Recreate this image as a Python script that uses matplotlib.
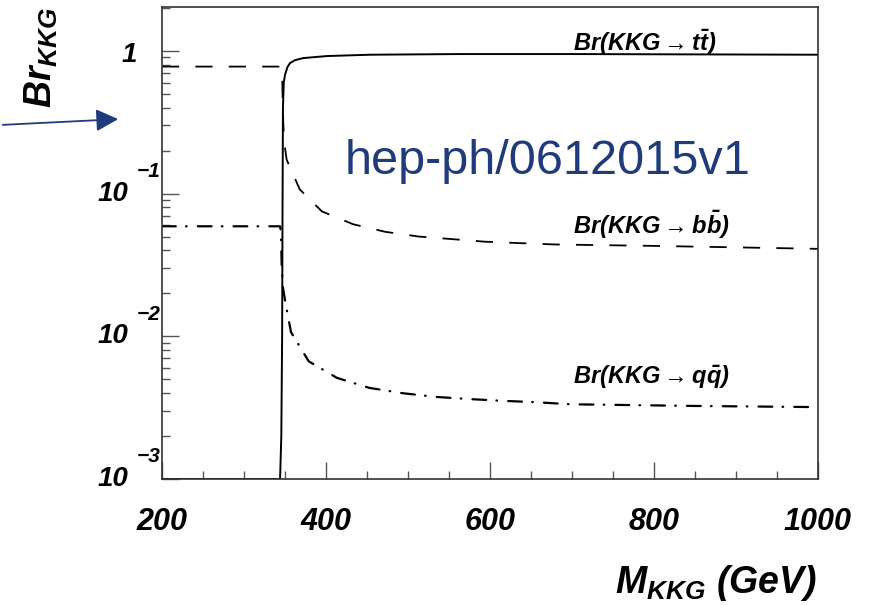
import matplotlib
matplotlib.use("Agg")
import matplotlib.pyplot as plt
from matplotlib.ticker import FixedLocator, LogLocator, NullFormatter, MultipleLocator

plt.rcParams["font.family"] = ["Liberation Sans", "DejaVu Sans"]
plt.rcParams["mathtext.fontset"] = "custom"
plt.rcParams["mathtext.rm"] = "Liberation Sans:italic:bold"
plt.rcParams["mathtext.it"] = "Liberation Sans:italic:bold"
plt.rcParams["mathtext.bf"] = "Liberation Sans:italic:bold"

# KK gluon mass (GeV) and branching ratios
mass_tt = [200, 344, 345.5, 346.5, 347, 347.5, 348.5, 350, 353, 356, 362, 372, 401, 454, 563, 700, 850, 1000]
br_tt = [0.001, 0.001, 0.002, 0.01, 0.08, 0.4, 0.6, 0.68, 0.77, 0.82, 0.86, 0.89, 0.92, 0.94, 0.95,
         0.95, 0.945, 0.94]

mass_bb = [200, 345.5, 346.5, 347.2, 348, 349, 352, 368, 395, 433, 472, 513, 553, 594, 635, 679, 800, 900, 1000]
br_bb = [0.776, 0.776, 0.7, 0.45, 0.3, 0.23, 0.173, 0.107, 0.075, 0.061, 0.054, 0.050, 0.048,
         0.046, 0.045, 0.044, 0.043, 0.042, 0.041]

mass_qq = [200, 344, 345, 346, 347.5, 350, 357.3, 378.9, 413.4, 452.8, 493.9, 534.1, 575.6,
           615.9, 657.3, 697.6, 850, 1000]
br_qq = [0.059, 0.059, 0.054, 0.031, 0.022, 0.0179, 0.0107, 0.00668, 0.00511, 0.00435, 0.00399,
         0.00376, 0.00363, 0.00353, 0.00345, 0.00334, 0.00325, 0.00319]

xticks = [200, 400, 600, 800, 1000]
ydecades = [1, 0.1, 0.01, 0.001]
yexponents = ["", "-1", "-2", "-3"]

curve_labels = [r"$Br(KKG \rightarrow t\bar{t})$",
                r"$Br(KKG \rightarrow b\bar{b})$",
                r"$Br(KKG \rightarrow q\bar{q})$"]
label_y = [1.0, 0.0517, 0.00462]

navy = "#1f3b7b"
bold_it = dict(fontweight="bold", fontstyle="italic")

fig = plt.figure(figsize=(8.7, 6.05), dpi=100)
ax = fig.add_axes([162 / 870, 1 - 479 / 605, (818 - 162) / 870, (479 - 7) / 605])

ax.plot(mass_tt, br_tt, color="black", lw=1.4, solid_joinstyle="round")
ax.plot(mass_bb, br_bb, color="black", lw=1.3, dashes=(9.5, 9))
ax.plot(mass_qq, br_qq, color="black", lw=1.6, dashes=(6.2, 4.6, 0.3, 5.0),
        dash_capstyle="round")

ax.set_yscale("log")
ax.set_xlim(200, 1000)
ax.set_ylim(1e-3, 2.03)

ax.xaxis.set_major_locator(FixedLocator(xticks))
ax.xaxis.set_minor_locator(MultipleLocator(50))
ax.set_xticklabels([str(v) for v in xticks], fontsize=22, **bold_it)
ax.yaxis.set_major_locator(FixedLocator(ydecades))
ax.yaxis.set_minor_locator(LogLocator(base=10, subs=range(2, 10)))
ax.yaxis.set_major_formatter(NullFormatter())
ax.yaxis.set_minor_formatter(NullFormatter())

ax.tick_params(which="both", direction="in", top=False, right=False, color="#555555", width=1)
ax.tick_params(which="major", length=12.5)
ax.tick_params(which="minor", length=6)
ax.tick_params(axis="x", which="major", pad=20)
for s in ax.spines.values():
    s.set_linewidth(1.2)
    s.set_color("#333333")

# y tick labels in ROOT style: "10" with a raised exponent
for val, expo in zip(ydecades, yexponents):
    if expo == "":
        ax.annotate("1", xy=(0, val), xycoords=("axes fraction", "data"),
                    xytext=(-18, -3), textcoords="offset points",
                    ha="right", va="center", fontsize=20, **bold_it)
        continue
    ax.annotate("10", xy=(0, val), xycoords=("axes fraction", "data"),
                xytext=(-24, 0), textcoords="offset points",
                ha="right", va="center", fontsize=20, **bold_it)
    ax.annotate("\u2212" + expo[1:], xy=(0, val), xycoords=("axes fraction", "data"),
                xytext=(-1, 16), textcoords="offset points",
                ha="right", va="center", fontsize=15, **bold_it)

for txt, yv in zip(curve_labels, label_y):
    ax.text(701, yv, txt, fontsize=17, ha="left", va="baseline", **bold_it)

fig.text(817 / 870, 1 - 593 / 605, r"$M_{KKG}$ (GeV)", fontsize=27, ha="right",
         va="baseline", **bold_it)
fig.text(41 / 870, 1 - 7 / 605, r"$Br_{KKG}$", fontsize=27, rotation=90, ha="center",
         va="top", **bold_it)

fig.text(345 / 870, 1 - 174 / 605, "hep-ph/0612015v1", fontsize=35, color=navy,
         ha="left", va="baseline")
fig.add_artist(matplotlib.patches.FancyArrowPatch(
    (0, 1 - 125 / 605), (121 / 870, 1 - 119 / 605), transform=fig.transFigure,
    arrowstyle="-|>", mutation_scale=34, lw=1.3, color=navy))

fig.savefig("out.png", dpi=100)
